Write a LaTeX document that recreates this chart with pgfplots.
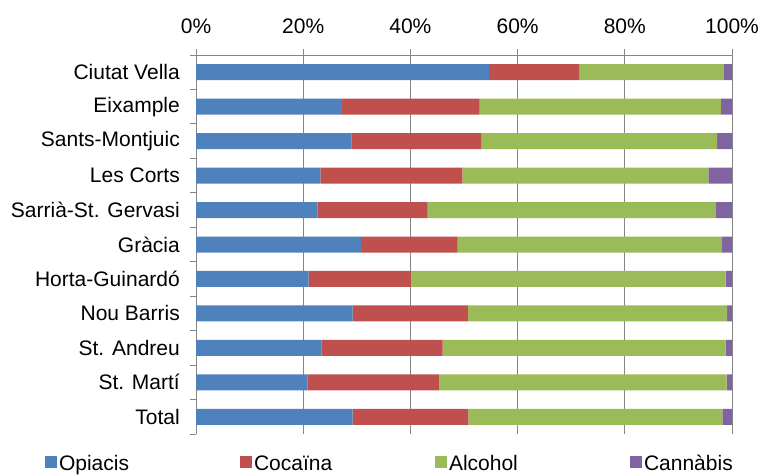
\documentclass[border=0pt]{standalone}
\usepackage{pgfplots}
\pgfplotsset{compat=1.18}
\usepackage{fontspec}
\setmainfont{Liberation Sans}
\definecolor{cOp}{HTML}{4F81BD}
\definecolor{cCo}{HTML}{C0504D}
\definecolor{cAl}{HTML}{9BBB59}
\definecolor{cCa}{HTML}{8064A2}
\definecolor{axgray}{HTML}{868686}
\begin{document}
\begin{tikzpicture}
\useasboundingbox (0,0) rectangle (762pt,475pt);
\begin{axis}[
  at={(196pt,41pt)}, anchor=south west,
  scale only axis, width=536pt, height=379pt,
  xbar stacked, bar width=16pt,
  xmin=0, xmax=100, ymin=-0.5, ymax=10.5,
  axis x line*=top, axis y line*=left,
  axis line style={axgray, line width=1pt},
  xtick={0,20,40,60,80,100},
  xticklabels={0\%,20\%,40\%,60\%,80\%,100\%},
  ytick={0,...,10},
  yticklabels={Total,St. Martí,St. Andreu,Nou Barris,Horta-Guinardó,Gràcia,Sarrià-St. Gervasi,Les Corts,Sants-Montjuic,Eixample,Ciutat Vella},
  minor ytick={-0.5,0.5,...,10.5},
  major y tick style={draw=none},
  minor y tick style={axgray, line width=1pt},
  major x tick style={axgray, line width=1pt},
  tick align=outside,
  major tick length=6pt, minor tick length=6pt,
  xmajorgrids, grid style={axgray, line width=1pt},
  ticklabel style={font=\fontsize{21}{25}\selectfont, inner sep=0pt},
  xticklabel style={yshift=15pt},
  yticklabel style={xshift=-10pt},
  legend columns=4,
  legend style={draw=none, fill=none, at={(-0.282,-0.074)}, anchor=west, inner sep=0pt,
    font=\fontsize{21}{25}\selectfont,
    /tikz/every even column/.append style={column sep=0pt}},
  legend cell align=left,
  legend image code/.code={\fill[#1,draw=none] (0pt,-6pt) rectangle (12pt,6pt);},
]
\addplot[fill=cOp, draw=none] coordinates {(29.2,0) (20.8,1) (23.4,2) (29.2,3) (21.0,4) (30.8,5) (22.7,6) (23.2,7) (29.0,8) (27.2,9) (54.7,10)};
\addplot[fill=cCo, draw=none] coordinates {(21.6,0) (24.6,1) (22.6,2) (21.5,3) (19.2,4) (18.0,5) (20.5,6) (26.5,7) (24.2,8) (25.7,9) (16.8,10)};
\addplot[fill=cAl, draw=none] coordinates {(47.4,0) (53.6,1) (52.8,2) (48.4,3) (58.6,4) (49.2,5) (53.7,6) (45.9,7) (44.0,8) (45.0,9) (26.9,10)};
\addplot[fill=cCa, draw=none] coordinates {(1.8,0) (1.0,1) (1.2,2) (0.9,3) (1.2,4) (2.0,5) (3.1,6) (4.4,7) (2.8,8) (2.1,9) (1.6,10)};
\legend{\makebox[179pt][l]{Opiacis\strut},\makebox[179pt][l]{Cocaïna\strut},\makebox[179pt][l]{Alcohol\strut},\makebox[100pt][l]{Cannàbis\strut}}
\end{axis}
\end{tikzpicture}
\end{document}
